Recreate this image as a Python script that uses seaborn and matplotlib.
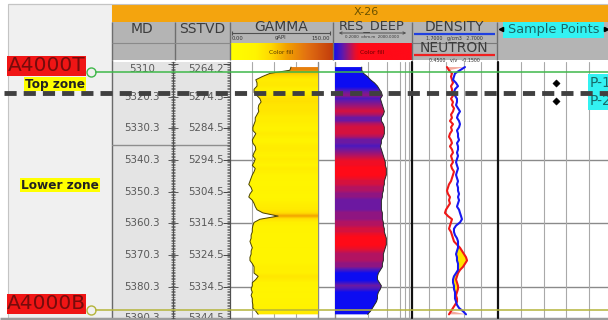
import numpy as np
import matplotlib
matplotlib.use("Agg")
import matplotlib.pyplot as plt
import seaborn as sns
from matplotlib.colors import LinearSegmentedColormap, LogNorm, Normalize
from matplotlib.patches import Rectangle
from matplotlib.ticker import FixedLocator, MultipleLocator

sns.set_theme(style="white")
plt.rcParams["font.family"] = ["DejaVu Sans"]

# ------------------------------------------------------------------ log data
well_name = "X-26"

depth_md = [
    5311, 5312, 5313, 5314, 5315, 5316, 5317, 5318, 5319, 5320,
    5321, 5322, 5323, 5324, 5325, 5326, 5327, 5328, 5329, 5330,
    5331, 5332, 5333, 5334, 5335, 5336, 5337, 5338, 5339, 5340,
    5341, 5342, 5343, 5344, 5345, 5346, 5347, 5348, 5349, 5350,
    5351, 5352, 5353, 5354, 5355, 5356, 5357, 5358, 5359, 5360,
    5361, 5362, 5363, 5364, 5365, 5366, 5367, 5368, 5369, 5370,
    5371, 5372, 5373, 5374, 5375, 5376, 5377, 5378, 5379, 5380,
    5381, 5382, 5383, 5384, 5385, 5386, 5387, 5388, 5389,
]

gamma = [
    104, 102, 68, 55, 44, 46, 46, 41, 41, 46,
    51, 53, 49, 48, 49, 46, 43, 43, 41, 39,
    39, 44, 41, 38, 39, 43, 44, 41, 39, 43,
    41, 38, 43, 41, 38, 36, 34, 32, 36, 38,
    34, 32, 38, 41, 43, 46, 56, 82, 51, 41,
    39, 38, 38, 36, 36, 34, 36, 38, 36, 36,
    34, 34, 38, 41, 41, 41, 48, 44, 38, 38,
    36, 38, 36, 38, 38, 39, 39, 44, 48,
]

res_deep = [
    4.9, 4.9, 6.1, 9.8, 14.0, 22.5, 32.1, 40.6, 51.4, 57.9,
    45.7, 51.4, 57.9, 65.2, 73.3, 65.2, 51.4, 51.4, 65.2, 73.3,
    73.3, 73.3, 65.2, 51.4, 51.4, 45.7, 51.4, 57.9, 65.2, 73.3,
    82.4, 82.4, 92.9, 92.9, 92.9, 82.4, 73.3, 73.3, 65.2, 65.2,
    57.9, 57.9, 51.4, 51.4, 51.4, 51.4, 57.9, 57.9, 57.9, 65.2,
    65.2, 73.3, 73.3, 82.4, 92.9, 92.9, 92.9, 82.4, 73.3, 65.2,
    65.2, 65.2, 57.9, 57.9, 45.7, 36.1, 32.1, 32.1, 40.6, 51.4,
    45.7, 36.1, 32.1, 32.1, 28.5, 22.5, 17.8, 14.0, 9.8,
]

rhob = [
    2.316, 2.258, 2.200, 2.188, 2.177, 2.212, 2.235, 2.200, 2.188, 2.200,
    2.223, 2.223, 2.212, 2.235, 2.258, 2.235, 2.223, 2.247, 2.258, 2.247,
    2.223, 2.235, 2.235, 2.247, 2.223, 2.235, 2.235, 2.223, 2.235, 2.223,
    2.212, 2.223, 2.235, 2.223, 2.212, 2.223, 2.235, 2.223, 2.235, 2.235,
    2.247, 2.235, 2.247, 2.235, 2.223, 2.247, 2.258, 2.270, 2.281, 2.258,
    2.212, 2.188, 2.188, 2.200, 2.223, 2.235, 2.235, 2.235, 2.223, 2.212,
    2.223, 2.223, 2.235, 2.235, 2.235, 2.212, 2.188, 2.177, 2.177, 2.188,
    2.188, 2.200, 2.200, 2.200, 2.212, 2.223, 2.247, 2.293, 2.328,
]

nphi = [
    0.206, 0.192, 0.171, 0.178, 0.171, 0.164, 0.178, 0.171, 0.171, 0.164,
    0.178, 0.164, 0.171, 0.157, 0.164, 0.178, 0.171, 0.185, 0.164, 0.178,
    0.171, 0.185, 0.192, 0.178, 0.171, 0.185, 0.171, 0.164, 0.178, 0.171,
    0.164, 0.178, 0.171, 0.157, 0.164, 0.171, 0.178, 0.192, 0.199, 0.206,
    0.199, 0.185, 0.192, 0.185, 0.199, 0.213, 0.220, 0.199, 0.171, 0.178,
    0.185, 0.192, 0.178, 0.171, 0.164, 0.157, 0.136, 0.115, 0.101, 0.087,
    0.073, 0.066, 0.080, 0.094, 0.115, 0.129, 0.136, 0.143, 0.136, 0.129,
    0.129, 0.136, 0.143, 0.136, 0.136, 0.150, 0.164, 0.178, 0.192,
]

md_ticks = [5310, 5320.3, 5330.3, 5340.3, 5350.3, 5360.3, 5370.3, 5380.3, 5390.3]
md_tick_labels = ["5310", "5320.3", "5330.3", "5340.3", "5350.3",
                  "5360.3", "5370.3", "5380.3", "5390.3"]
sstvd_tick_labels = ["5264.2", "5274.5", "5284.5", "5294.5", "5304.5",
                     "5314.5", "5324.5", "5334.5", "5344.5"]
grid_md = [5340.3, 5360.3, 5380.3]
depth_col_line_md = 5335.6

top_names = ["A4000T", "A4000B"]
top_md = [5312.5, 5387.6]
top_colors = ["#3fb84a", "#b4b43a"]

zone_names = ["Top zone", "Lower zone"]
zone_label_md = [5316.4, 5348.2]
zone_boundary_md = 5319.2

sample_names = ["P-1", "P-2"]
sample_md = [5316.0, 5321.7]

# track scales
GR_RANGE = (0, 150)
RES_RANGE = (0.2, 2000)
RHOB_RANGE = (1.7, 2.7)
NPHI_RANGE = (0.45, -0.15)

gr_cmap = LinearSegmentedColormap.from_list(
    "gr_fill", [(0.0, "#ffff00"), (0.25, "#fff400"), (0.4, "#ffd800"),
                (0.55, "#f2a200"), (0.75, "#e27012"), (1.0, "#c23c0c")])
res_cmap = LinearSegmentedColormap.from_list(
    "res_fill", [(0.0, "#0c0cf2"), (0.35, "#5c1ab0"), (0.62, "#a8146c"),
                 (0.85, "#e8102c"), (1.0, "#ff0a18")])
res_norm = LogNorm(vmin=35, vmax=90)

# ------------------------------------------------------------------ layout
W, H = 608, 320
Y0, Y1 = 62, 318                      # pixel rows of the depth panel
D_TOP, D_BOT = 5309.4, 5390.15        # depths at those rows

fig = plt.figure(figsize=(W / 100, H / 100), dpi=100, facecolor="white")


def px_axes(x0, y0, x1, y1, z):
    ax = fig.add_axes([x0 / W, 1 - y1 / H, (x1 - x0) / W, (y1 - y0) / H])
    ax.set_zorder(z)
    ax.set_axis_off()
    return ax


# ---- static frame, header bars and column titles
canvas = px_axes(0, 0, W, H, 0)


def rect(x0, y0, x1, y1, fc, ec="none", lw=0, z=1):
    canvas.add_patch(Rectangle((x0, y0), x1 - x0, y1 - y0, facecolor=fc,
                               edgecolor=ec, linewidth=lw, zorder=z))


def htext(x, y, s, size=10, color="#3c3c3c", **kw):
    canvas.text(x, y, s, ha="center", va="center", fontsize=size, color=color,
                zorder=5, **kw)


rect(8, 4, 112, 318, "#f0f0f0", ec="#c4c4c4", lw=0.8)
rect(112, 4, W, 22, "#f4a40e")
rect(112, 22, W, 60, "#b4b4b4")
rect(112, 62, 230, 318, "#e4e4e4")
canvas.hlines(4, 8, W, color="#c4c4c4", lw=0.8)
canvas.hlines(319, 0, W, color="#9c9c9c", lw=2.5, zorder=6)

htext(366, 12, well_name, size=8, color="#6b5200")

for xv in [112, 175, 230, 333, 412, 497]:
    canvas.vlines(xv, 22, 60, color="#6e6e6e", lw=1, zorder=4)
canvas.vlines(112, 60, 318, color="#6a6a6a", lw=1, zorder=4)
canvas.hlines(43, 112, 230, color="#8a8a8a", lw=0.8, zorder=4)

htext(142, 29, "MD", size=10)
htext(202, 29, "SSTVD", size=10)

# gamma header
htext(281, 27, "GAMMA", size=10)
canvas.hlines(33, 232, 330, color="#505050", lw=0.8, zorder=4)
canvas.vlines([232, 330], 31, 35, color="#505050", lw=0.8, zorder=4)
canvas.text(232, 38, "0.00", fontsize=3.8, color="#333", ha="left", va="center", zorder=5)
canvas.text(281, 38, "gAPI", fontsize=3.8, color="#333", ha="center", va="center", zorder=5)
canvas.text(330, 38, "150.00", fontsize=3.8, color="#333", ha="right", va="center", zorder=5)
canvas.imshow(np.linspace(0, 1, 256)[None, :], cmap=gr_cmap, aspect="auto",
              extent=(230, 333, 60, 43), zorder=3)
htext(281, 52, "Color fill", size=4.2, color="#5a3a00")

# resistivity header
htext(372, 26, "RES_DEEP", size=9.3)
canvas.annotate("", xy=(336, 33), xytext=(409, 33),
                arrowprops=dict(arrowstyle="<->", color="#505050", lw=0.7,
                                mutation_scale=4), zorder=5)
htext(372, 37.5, "0.2000  ohm.m  2000.0000", size=2.8, color="#333")
canvas.imshow(np.clip(np.linspace(0, 3, 256), 0, 1)[None, :], cmap=res_cmap,
              aspect="auto", extent=(333, 412, 60, 43), zorder=3)
htext(372, 52, "Color fill", size=4.2, color="#6a0000")

# density / neutron header
htext(454, 27, "DENSITY", size=10)
canvas.hlines(33.5, 414, 495, color="#2040e0", lw=1.6, zorder=4)
htext(454, 38.5, "1.7000   g/cm3   2.7000", size=3.4, color="#333")
canvas.hlines(42.5, 412, 497, color="#7a7a7a", lw=0.8, zorder=4)
htext(454, 48.5, "NEUTRON", size=10)
canvas.hlines(55, 414, 495, color="#f02020", lw=1.6, zorder=4)
htext(454, 59.5, "0.4500   v/v   -0.1500", size=3.4, color="#333")

# sample points header
rect(503, 22, 604, 38, "#33f2f2", z=3)
htext(553.5, 30, "Sample Points", size=9.3, color="#176a6a")
canvas.plot([500.5], [28.5], marker="<", ms=3, color="black", zorder=6)
canvas.plot([606], [28.5], marker=">", ms=3, color="black", zorder=6)

# ---- depth panel axes
ax_base = px_axes(230, Y0, 612, Y1, 0.5)
ax_md = px_axes(112, Y0, 230, Y1, 1)
ax_gr = px_axes(230, Y0, 318, Y1, 1)
ax_res = px_axes(335, Y0, 412, Y1, 1)
ax_res.set_xscale("log")
ax_dgrid = px_axes(412, Y0, 498, Y1, 0.8)
ax_neu = px_axes(412, Y0, 498, Y1, 1)
ax_den = px_axes(412, Y0, 498, Y1, 1.1)
ax_sp = px_axes(498, Y0, 612, Y1, 1)
ax_top = px_axes(0, Y0, W, Y1, 3)

# depth ruler with SSTVD ticks
ax_rl = fig.add_axes([173 / W, 1 - Y1 / H, (230 - 173) / W, (Y1 - Y0) / H])
ax_rl.set_zorder(1.2)
ax_rl.patch.set_visible(False)
ax_rr = ax_rl.twinx()
ax_rr.patch.set_visible(False)
for a, side in [(ax_rl, "left"), (ax_rr, "right")]:
    for name, sp in a.spines.items():
        sp.set_visible(name == side)
        sp.set_color("#505050")
        sp.set_linewidth(0.9)
    a.set_xticks([])
    a.yaxis.set_major_locator(FixedLocator(md_ticks))
    a.yaxis.set_minor_locator(MultipleLocator(0.5))
ax_rl.tick_params(axis="y", which="major", left=True, right=False, labelleft=False,
                  direction="inout", length=7, width=0.6, color="#444444")
ax_rl.tick_params(axis="y", which="minor", left=True, right=False,
                  direction="inout", length=3.5, width=0.5, color="#555555")
ax_rr.tick_params(axis="y", which="major", right=True, left=False, labelright=False,
                  direction="in", length=5, width=0.7, color="#444444")
ax_rr.tick_params(axis="y", which="minor", right=True, left=False,
                  direction="in", length=2.5, width=0.5, color="#555555")

# MD / SSTVD labels
for d, lab_md, lab_ss in zip(md_ticks, md_tick_labels, sstvd_tick_labels):
    va = "top" if d < D_TOP + 1.5 else "center"
    ax_md.text(142, d, lab_md, ha="center", va=va, fontsize=7.4, color="#585858", clip_on=True)
    ax_md.text(224, d, lab_ss, ha="right", va=va, fontsize=7.4, color="#585858", clip_on=True)
ax_md.axhline(depth_col_line_md, color="#8e8e8e", lw=1)

# horizontal depth grid
for d in grid_md:
    ax_base.axhline(d, color="#8a8a8a", lw=1, zorder=0.5)

GRID_C = "#a9a9a9"

# gamma track: colour fill from curve to right edge
for v in [37.5, 75, 112.5]:
    ax_gr.axvline(v, color=GRID_C, lw=0.8, zorder=0.6)
ax_gr.axvline(GR_RANGE[1], color="#8a8a8a", lw=1, zorder=0.6, clip_on=False)
gr_poly = ax_gr.fill_betweenx(depth_md, gamma, GR_RANGE[1], facecolor="none", edgecolor="none")
gr_img = ax_gr.imshow(np.asarray(gamma, float)[:, None], cmap=gr_cmap, norm=Normalize(*GR_RANGE),
                      aspect="auto", interpolation="bilinear", origin="upper",
                      extent=(GR_RANGE[0], GR_RANGE[1], depth_md[-1] + 0.5, depth_md[0] - 0.5),
                      zorder=2)
gr_img.set_clip_path(gr_poly.get_paths()[0], transform=ax_gr.transData)
sns.lineplot(x=gamma, y=depth_md, ax=ax_gr, orient="y", sort=False, estimator=None,
             color="#4a4200", lw=0.7, legend=False, zorder=3)

# resistivity track: colour fill from left edge to curve
for v in [10, 100, 500, 900, 1400]:
    ax_res.axvline(v, color=GRID_C, lw=0.8, zorder=0.6)
ax_res.axvline(RES_RANGE[0], color="#8a8a8a", lw=1, zorder=0.6, clip_on=False)
res_poly = ax_res.fill_betweenx(depth_md, RES_RANGE[0], res_deep, facecolor="none", edgecolor="none")
res_img = ax_res.imshow(np.asarray(res_deep, float)[:, None], cmap=res_cmap, norm=res_norm,
                        aspect="auto", interpolation="bilinear", origin="upper",
                        extent=(RES_RANGE[0], RES_RANGE[1], depth_md[-1] + 0.5, depth_md[0] - 0.5),
                        zorder=2)
res_img.set_clip_path(res_poly.get_paths()[0], transform=ax_res.transData)
sns.lineplot(x=res_deep, y=depth_md, ax=ax_res, orient="y", sort=False, estimator=None,
             color="#262626", lw=0.7, legend=False, zorder=3)

# density / neutron track
for v in [1.9, 2.1, 2.3, 2.5]:
    ax_dgrid.axvline(v, color=GRID_C, lw=0.8, zorder=0.6)
for v in RHOB_RANGE:
    ax_dgrid.axvline(v, color="#111111", lw=1.6, zorder=0.7, clip_on=False)

rhob_in_nphi = NPHI_RANGE[0] + (np.asarray(rhob) - RHOB_RANGE[0]) / (RHOB_RANGE[1] - RHOB_RANGE[0]) \
    * (NPHI_RANGE[1] - NPHI_RANGE[0])
nphi_arr = np.asarray(nphi)
ax_neu.fill_betweenx(depth_md, nphi_arr, rhob_in_nphi, where=nphi_arr < rhob_in_nphi,
                     interpolate=True, facecolor="#ffe400", edgecolor="none", zorder=1.5)
ax_neu.fill_betweenx(depth_md, nphi_arr, rhob_in_nphi, where=(nphi_arr - rhob_in_nphi) > 0.115,
                     interpolate=True, facecolor="#f3a89c", edgecolor="none", zorder=1.5)
sns.lineplot(x=nphi, y=depth_md, ax=ax_neu, orient="y", sort=False, estimator=None,
             color="#f01818", lw=1.5, legend=False, zorder=3)
sns.lineplot(x=rhob, y=depth_md, ax=ax_den, orient="y", sort=False, estimator=None,
             color="#1818f0", lw=1.5, legend=False, zorder=3)

# sample points track
for v in [1, 2, 3, 4]:
    ax_sp.axvline(v, color=GRID_C, lw=0.8, zorder=0.6)
sns.scatterplot(x=[2.55] * len(sample_md), y=sample_md, ax=ax_sp, marker="D", s=14,
                color="black", edgecolor="black", legend=False, zorder=3)
for name, d in zip(sample_names, sample_md):
    ax_sp.text(4.03, d, name, ha="left", va="center", fontsize=10, color="#176a6a",
               bbox=dict(boxstyle="square,pad=0.12", facecolor="#33f2f2", edgecolor="none"),
               zorder=4)

# formation tops, zone labels and zone boundary
for name, d, c in zip(top_names, top_md, top_colors):
    ax_top.hlines(d, 95, W, color=c, lw=1.1)
    ax_top.plot([91], [d], marker="o", ms=6.5, mfc="none", mec=c, mew=1)
    ax_top.annotate(name, xy=(46.5, d), xytext=(0, 4.3), textcoords="offset points",
                    ha="center", va="center", fontsize=14.5, color="#760c0c",
                    bbox=dict(boxstyle="square,pad=0.02", facecolor="#f01515", edgecolor="none"))

zone_x = [55, 60]
for name, d, x in zip(zone_names, zone_label_md, zone_x):
    ax_top.text(x, d, name, ha="center", va="center", fontsize=8.7, fontweight="bold",
                color="#222222",
                bbox=dict(boxstyle="square,pad=0.05", facecolor="#ffff00", edgecolor="none"))

ax_top.hlines(zone_boundary_md, 4, W, color="#404040", lw=3.5, linestyles=(0, (2.5, 1.45)))

# ---- limits
canvas.set_xlim(0, W)
canvas.set_ylim(H, 0)
for a in [ax_base, ax_md, ax_gr, ax_res, ax_dgrid, ax_neu, ax_den, ax_sp, ax_top, ax_rl, ax_rr]:
    a.set_ylim(D_BOT, D_TOP)
ax_base.set_xlim(0, 1)
ax_md.set_xlim(112, 230)
ax_gr.set_xlim(*GR_RANGE)
ax_res.set_xlim(*RES_RANGE)
ax_dgrid.set_xlim(*RHOB_RANGE)
ax_den.set_xlim(*RHOB_RANGE)
ax_neu.set_xlim(*NPHI_RANGE)
ax_sp.set_xlim(0, 5)
ax_top.set_xlim(0, W)

fig.savefig("out.png", dpi=100, facecolor="white")
